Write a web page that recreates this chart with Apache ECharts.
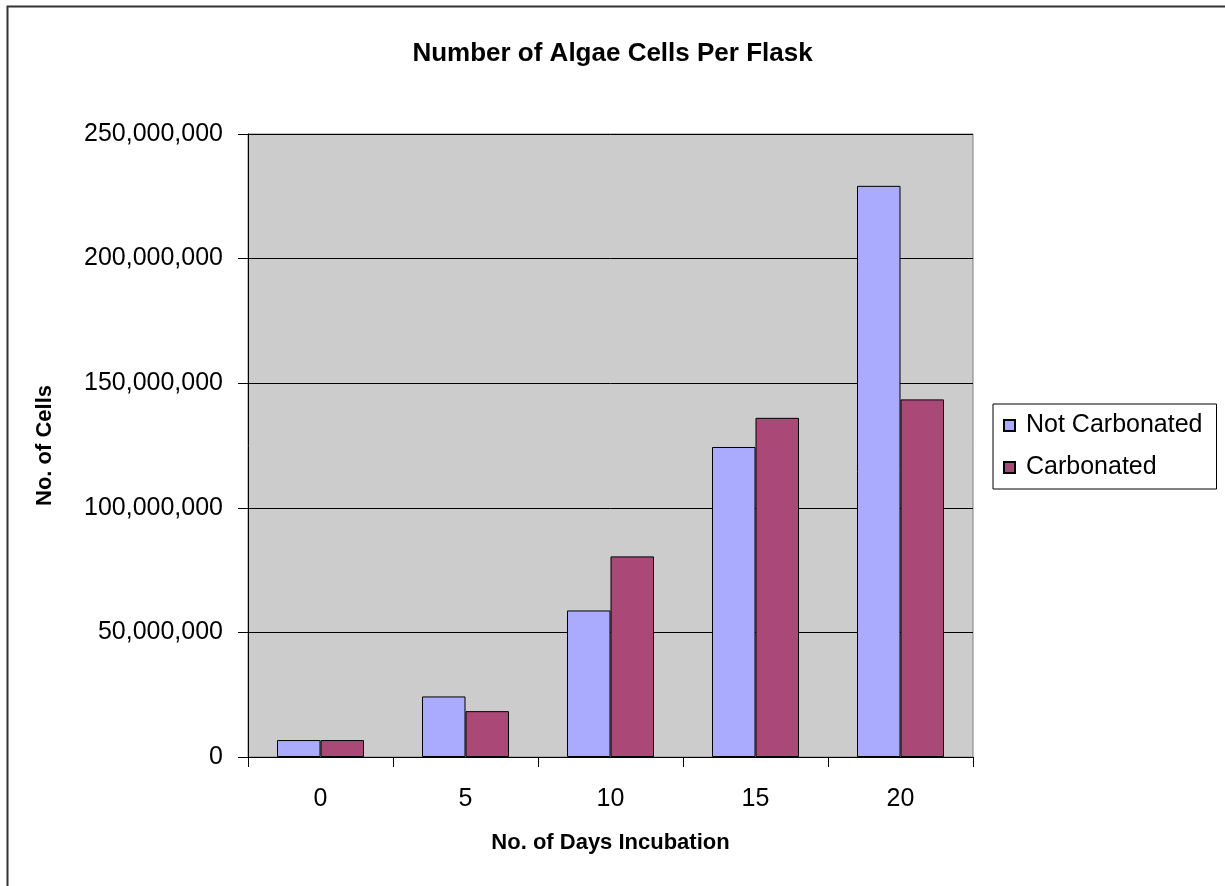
<!DOCTYPE html>
<html>
<head>
<meta charset="utf-8">
<script src="https://cdn.jsdelivr.net/npm/echarts@6/dist/echarts.min.js"></script>
<style>
  html, body { margin: 0; padding: 0; background: #fff; }
  #chart { width: 1225px; height: 886px; }
</style>
</head>
<body>
<div id="chart"></div>
<script>
// data
const days = ["0", "5", "10", "15", "20"];
const notCarbonated = [6800000, 24300000, 58800000, 124400000, 229200000];
const carbonated = [6800000, 18400000, 80500000, 136100000, 143500000];
const yTicks = { min: 0, max: 250000000, interval: 50000000 };

const font = "'Liberation Sans', Arial, sans-serif";
const chart = echarts.init(document.getElementById("chart"));

const fmt = v => v.toLocaleString("en-US");

const option = {
	animation: false,
	textStyle: { fontFamily: font, color: "#000" },
	graphic: [
		{
			type: "rect",
			shape: { x: 7.5, y: 6.5, width: 1240, height: 900 },
			style: { fill: "none", stroke: "#333", lineWidth: 2 }
		}
	],
	title: {
		text: "Number of Algae Cells Per Flask",
		left: "center",
		top: 36,
		textStyle: { fontFamily: font, fontSize: 26, fontWeight: "bold", color: "#000" }
	},
	legend: {
		orient: "vertical",
		left: 993,
		top: 404,
		padding: [9, 14, 9, 10],
		borderColor: "#000",
		borderWidth: 1,
		backgroundColor: "#fff",
		itemWidth: 11,
		itemHeight: 11,
		itemGap: 17,
		icon: "rect",
		textStyle: { fontFamily: font, fontSize: 25, color: "#000", padding: [0, 0, 0, 6] },
		data: ["Not Carbonated", "Carbonated"]
	},
	grid: {
		left: 248,
		top: 134,
		right: 252,
		bottom: 129,
		show: true,
		backgroundColor: "#CCCCCC",
		borderColor: "#808080",
		borderWidth: 1
	},
	xAxis: {
		type: "category",
		data: days,
		name: "No. of Days Incubation",
		nameLocation: "middle",
		nameGap: 75,
		nameTextStyle: { fontFamily: font, fontSize: 22, fontWeight: "bold", color: "#000" },
		axisLine: { lineStyle: { color: "#000", width: 1 } },
		axisTick: { show: true, length: 10, lineStyle: { color: "#000" } },
		axisLabel: { margin: 30, fontFamily: font, fontSize: 25, color: "#000" }
	},
	yAxis: {
		type: "value",
		min: yTicks.min,
		max: yTicks.max,
		interval: yTicks.interval,
		name: "No. of Cells",
		nameLocation: "middle",
		nameRotate: 90,
		nameGap: 192,
		nameTextStyle: { fontFamily: font, fontSize: 22, fontWeight: "bold", color: "#000" },
		axisLine: { show: true, lineStyle: { color: "#000", width: 1 } },
		axisTick: { show: true, length: 10, lineStyle: { color: "#000" } },
		splitLine: { show: true, lineStyle: { color: "#000", width: 1 } },
		axisLabel: { margin: 25, fontFamily: font, fontSize: 25, color: "#000", formatter: fmt }
	},
	series: [
		{
			name: "Not Carbonated",
			type: "bar",
			data: notCarbonated,
			barGap: "0%",
			barCategoryGap: "40%",
			itemStyle: { color: "#AAAAFF", borderColor: "#000", borderWidth: 1 }
		},
		{
			name: "Carbonated",
			type: "bar",
			data: carbonated,
			barGap: "0%",
			barCategoryGap: "40%",
			itemStyle: { color: "#AA4977", borderColor: "#000", borderWidth: 1 }
		}
	]
};

chart.setOption(option);
</script>
</body>
</html>
